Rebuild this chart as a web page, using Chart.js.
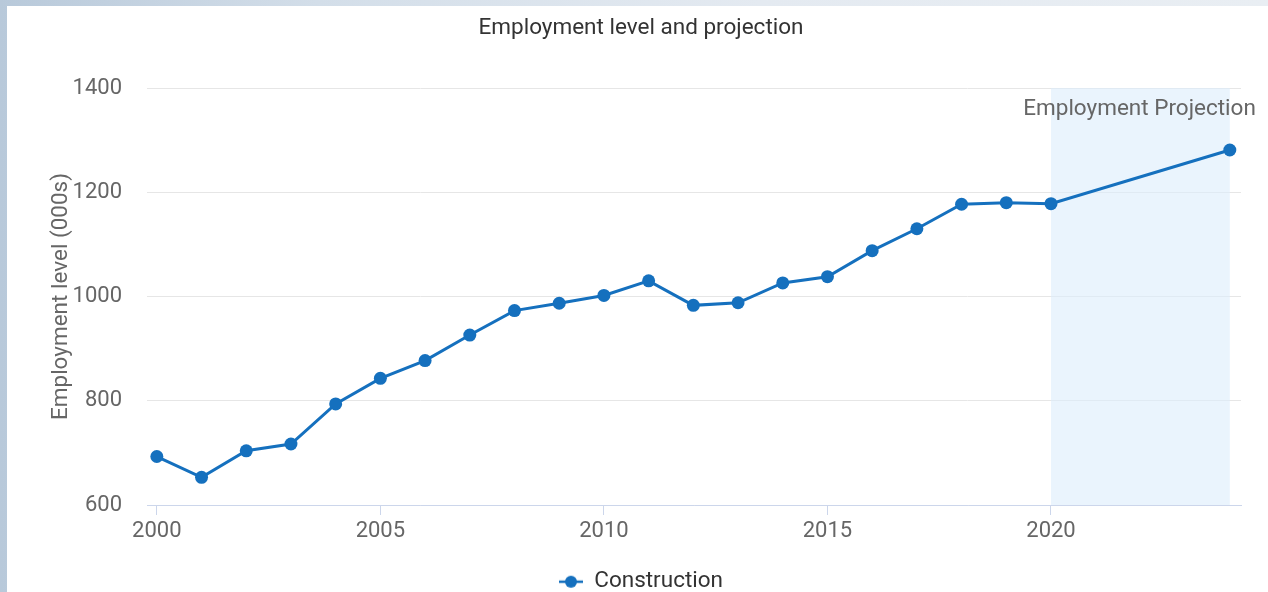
<!DOCTYPE html>
<html>
<head>
<meta charset="utf-8">
<script src="https://cdn.jsdelivr.net/npm/chart.js@4/dist/chart.umd.min.js"></script>
<style>
  html, body { margin: 0; padding: 0; overflow: hidden; }
  body {
    width: 1268px; height: 592px;
    background: linear-gradient(90deg, #b8c9da 0%, #d3dee9 25%, #e4eaf1 60%, #e9eef3 100%);
    font-family: Roboto, sans-serif;
  }
  #panel {
    position: absolute; left: 7px; top: 6px;
    width: 1268px; height: 597px;
    background: #fff;
  }
</style>
</head>
<body>
<div id="panel"><canvas id="chart"></canvas></div>
<script>
// data
const years = [2000, 2001, 2002, 2003, 2004, 2005, 2006, 2007, 2008, 2009, 2010,
               2011, 2012, 2013, 2014, 2015, 2016, 2017, 2018, 2019, 2020, 2024];
const construction = [693, 653, 704, 717, 794, 843, 877, 926, 973, 987, 1002,
                      1030, 983, 988, 1026, 1038, 1088, 1130, 1177, 1180, 1178, 1281];
const xTicks = [2000, 2005, 2010, 2015, 2020];
const yTicks = [600, 800, 1000, 1200, 1400];
const projectionStart = 2020;
const projectionEnd = 2024;

const lineColor = '#1570be';

// legend marker: short line with a dot
const marker = document.createElement('canvas');
marker.width = 24; marker.height = 14;
const mctx = marker.getContext('2d');
mctx.strokeStyle = lineColor;
mctx.lineWidth = 2.5;
mctx.beginPath(); mctx.moveTo(0, 7); mctx.lineTo(24, 7); mctx.stroke();
mctx.fillStyle = lineColor;
mctx.beginPath(); mctx.arc(12, 7, 6, 0, Math.PI * 2); mctx.fill();

const projectionBand = {
  id: 'projectionBand',
  beforeDatasetsDraw(chart) {
    const { ctx, chartArea, scales } = chart;
    const x0 = scales.x.getPixelForValue(projectionStart);
    const x1 = scales.x.getPixelForValue(projectionEnd);
    ctx.save();
    ctx.fillStyle = 'rgba(220, 236, 252, 0.6)';
    ctx.fillRect(x0, chartArea.top, x1 - x0, chartArea.bottom - chartArea.top);
    ctx.fillStyle = '#666';
    ctx.font = '22.5px Roboto';
    ctx.textAlign = 'right';
    ctx.textBaseline = 'middle';
    ctx.fillText('Employment Projection', x1 + 26, chartArea.top + 21);
    ctx.restore();
  }
};

const tickFont = { family: 'Roboto', size: 22 };

new Chart(document.getElementById('chart'), {
  type: 'line',
  data: {
    datasets: [{
      label: 'Construction',
      data: years.map((y, i) => ({ x: y, y: construction[i] })),
      borderColor: lineColor,
      backgroundColor: lineColor,
      borderWidth: 3,
      pointRadius: 6.5,
      pointHoverRadius: 6.5,
      pointBorderWidth: 0,
      tension: 0
    }]
  },
  options: {
    responsive: true,
    maintainAspectRatio: false,
    animation: false,
    layout: { padding: 0 },
    scales: {
      x: {
        type: 'linear',
        min: 1999.78,
        max: 2024.25,
        afterBuildTicks: s => { s.ticks = xTicks.map(v => ({ value: v })); },
        afterFit: s => { s.height = 55.5; },
        grid: { display: true, drawOnChartArea: false, drawTicks: true, tickLength: 10, color: '#ccd6eb' },
        border: { display: true, color: '#ccd6eb' },
        ticks: { color: '#666', font: tickFont, padding: 3, callback: v => String(v) }
      },
      y: {
        min: 600,
        max: 1400,
        afterBuildTicks: s => { s.ticks = yTicks.map(v => ({ value: v })); },
        afterFit: s => { s.width = 140; },
        grid: { color: '#e6e6e6', drawTicks: false },
        border: { display: false },
        ticks: { color: '#666', font: tickFont, padding: 25, callback: v => String(v) },
        title: {
          display: true,
          text: 'Employment level (000s)',
          color: '#666',
          font: { family: 'Roboto', size: 22.5 },
          padding: { top: 41, bottom: 0 }
        }
      },
      // empty right-hand gutter so the plot ends where the reference does
      gutter: {
        position: 'right',
        min: 0,
        max: 1,
        afterFit: s => { s.width = 34; },
        grid: { display: false },
        border: { display: false },
        ticks: { display: false }
      }
    },
    plugins: {
      title: {
        display: true,
        text: 'Employment level and projection',
        color: '#333',
        font: { family: 'Roboto', size: 22.5, weight: 'normal' },
        padding: { top: 9, bottom: 46 }
      },
      legend: {
        position: 'bottom',
        labels: {
          usePointStyle: true,
          pointStyle: marker,
          pointStyleWidth: 24,
          color: '#333',
          font: { family: 'Roboto', size: 22.5 },
          padding: 10
        }
      },
      tooltip: { enabled: false }
    }
  },
  plugins: [projectionBand]
});
</script>
</body>
</html>
